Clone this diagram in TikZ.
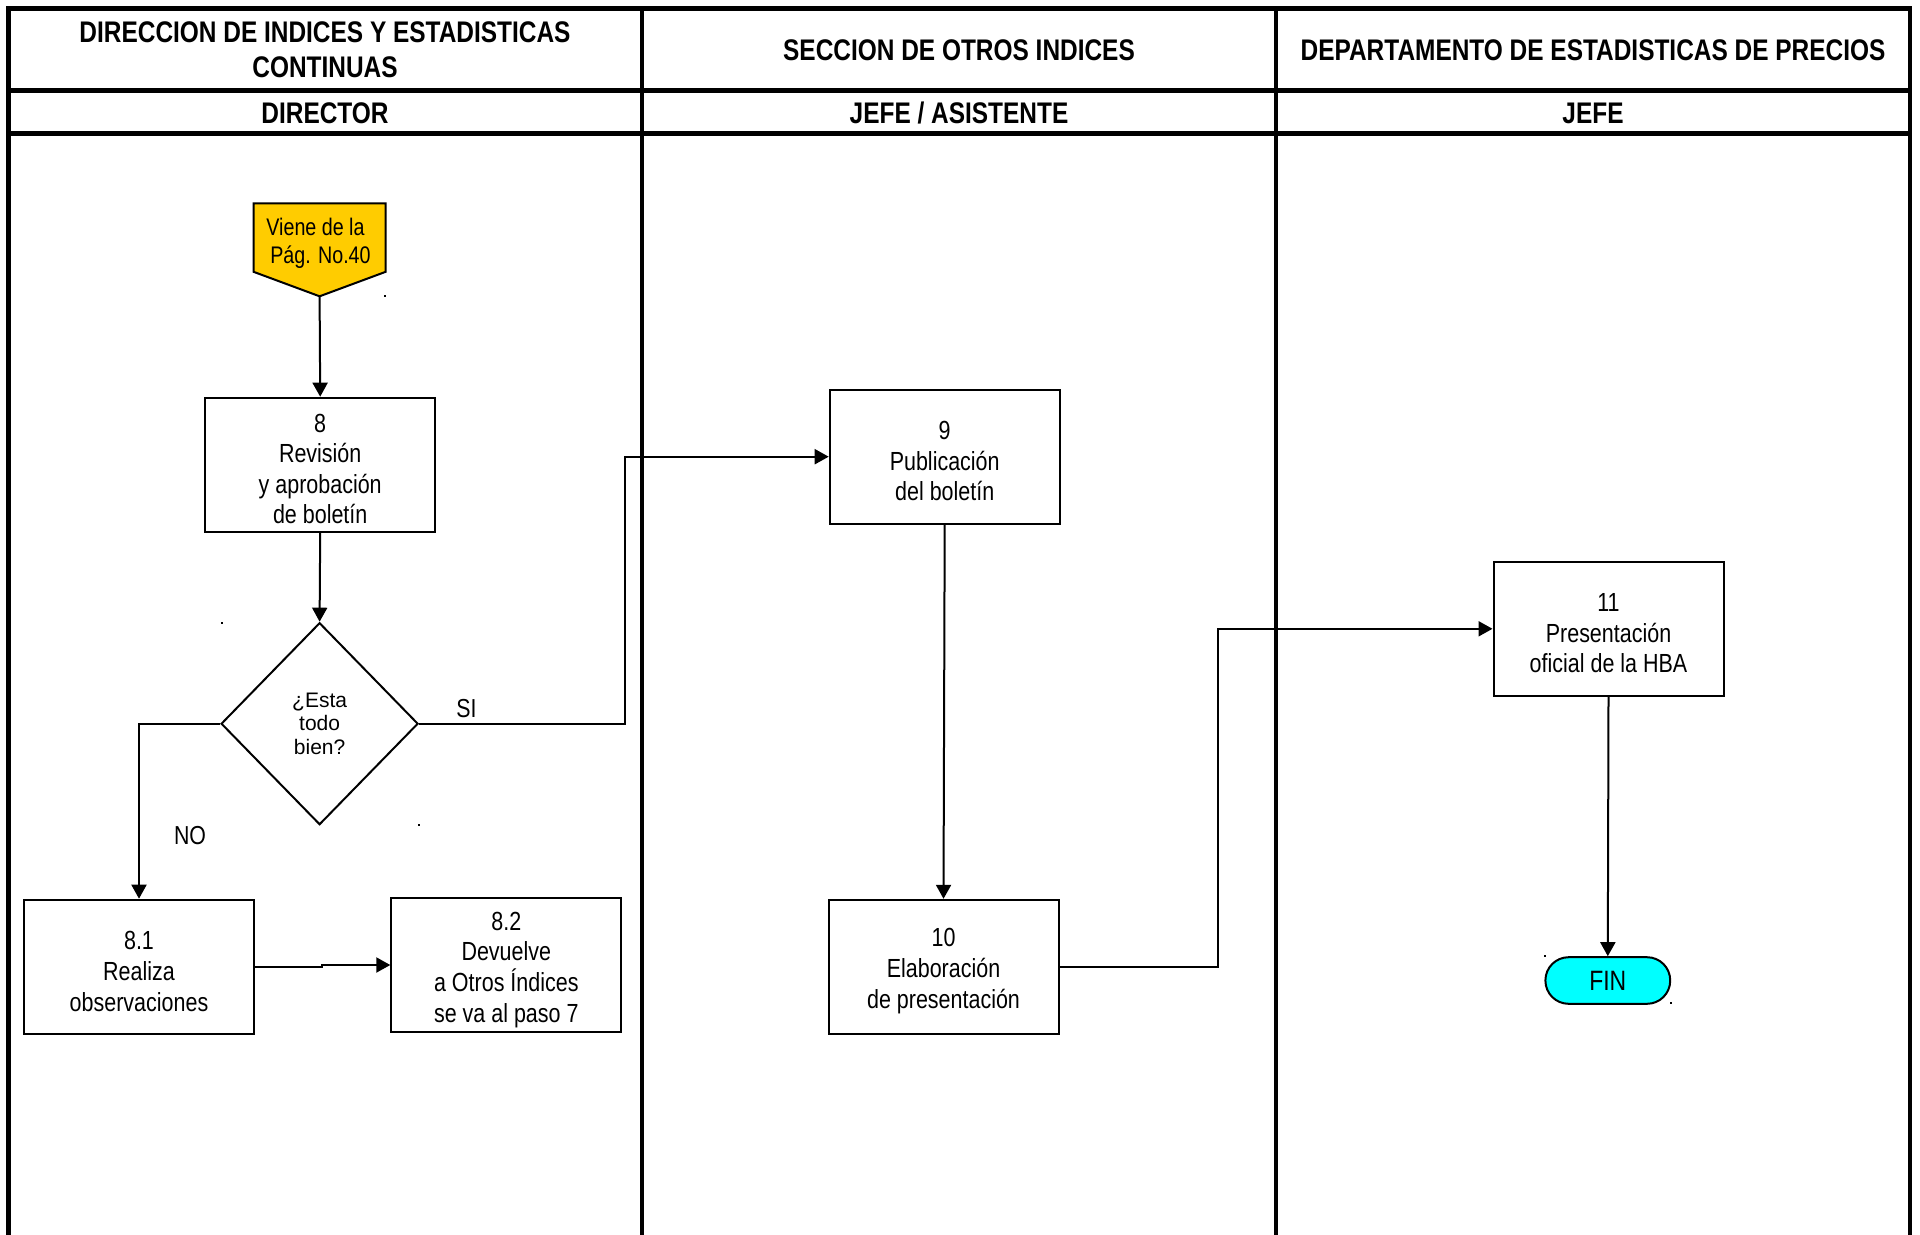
\documentclass[tikz,border=0pt]{standalone}
\usepackage{fontspec}
\setmainfont{Liberation Sans}[FakeStretch=0.82]
\newfontfamily\widefont{Liberation Sans}
\usetikzlibrary{shapes.geometric,arrows.meta,calc}
\definecolor{gold}{RGB}{255,204,0}
\definecolor{finc}{RGB}{0,255,255}
\begin{document}
\begin{tikzpicture}[x=0.5pt,y=-0.5pt,
  frame/.style={line width=2.2pt},
  hdr/.style={font=\fontsize{14.9}{17.3}\selectfont\bfseries, align=center, inner sep=0},
  stepbox/.style={draw, line width=1pt, minimum width=115pt, minimum height=67pt, inner sep=0},
  steptext/.style={align=center, inner sep=0, font=\fontsize{13.1}{15.3}\selectfont},
  conn/.style={line width=1pt, -{Triangle[width=7.5pt,length=7pt]}},
  lbl/.style={font=\fontsize{13}{15}\selectfont, inner sep=0}]
\useasboundingbox (0,0) rectangle (1920,1235);
% frame
\draw[frame] (8.6,1236) -- (8.6,8.6) -- (1910,8.6) -- (1910,1236);
\draw[frame] (8.6,90.6) -- (1910,90.6);
\draw[frame] (8.6,133.5) -- (1910,133.5);
\draw[frame] (642,8.6) -- (642,1236);
\draw[frame] (1276,8.6) -- (1276,1236);
% headers
\node[hdr] (h1) at (325,50) {DIRECCION DE INDICES Y ESTADISTICAS\\CONTINUAS};
\node[hdr] (h2) at (959,50) {SECCION DE OTROS INDICES};
\node[hdr] (h3) at (1593,50) {DEPARTAMENTO DE ESTADISTICAS DE PRECIOS};
\node[hdr] (r1) at (325,113.5) {DIRECTOR};
\node[hdr] (r2) at (959,113.5) {JEFE / ASISTENTE};
\node[hdr] (r3) at (1593,113.5) {JEFE};
% off-page connector
\draw[line width=1pt, fill=gold] (253.5,203.3) -- (385.7,203.3) -- (385.7,271.8) -- (319.6,296.3) -- (253.5,271.8) -- cycle;
\node[align=center, inner sep=0, font=\fontsize{12}{14.2}\selectfont] (viene) at (315.5,243.5) {Viene de la\\ \hspace*{5pt}Pág. No.40};
\coordinate (vtip) at (319.6,296.3);
% process boxes
\node[stepbox] (n8) at (320.2,464.7) {};
\node[stepbox] (n81) at (139,966.7) {};
\node[stepbox] (n82) at (506.3,965) {};
\node[stepbox] (n9) at (944.7,456.7) {};
\node[stepbox] (n10) at (943.5,966.8) {};
\node[stepbox] (n11) at (1608.5,628.8) {};
\node[steptext] (t8) at ($(n8)+(0,4.3)$) {8\\Revisión\\y aprobación\\de boletín};
\node[steptext] (t81) at ($(n81)+(0,4.8)$) {8.1\\Realiza\\observaciones};
\node[steptext] (t82) at ($(n82)+(0,4.8)$) {8.2\\Devuelve\\a Otros Índices\\se va al paso 7};
\node[steptext] (t9) at ($(n9)+(0,4.3)$) {9\\Publicación\\del boletín};
\node[steptext] (t10) at ($(n10)+(0,4.3)$) {10\\Elaboración\\de presentación};
\node[steptext] (t11) at ($(n11)+(0,4.6)$) {11\\Presentación\\oficial de la HBA};
% decision and end
\node[draw, line width=1pt, diamond, minimum width=98.5pt, minimum height=101pt, inner sep=0, align=center, font=\widefont\fontsize{10.5}{11.8}\selectfont] (d) at (319.6,723.7) {¿Esta\\todo\\bien?};
\node[draw, line width=1pt, fill=finc, rounded corners=11.6pt, minimum width=62.4pt, minimum height=23.3pt, inner sep=0, font=\fontsize{14}{16}\selectfont] (fin) at (1607.8,980.5) {FIN};
% labels
\node[lbl] (si) at (466.5,709) {SI};
\node[lbl] (no) at (190,836) {NO};
% connectors
\draw[conn] (vtip) -- (n8.north);
\draw[conn] (n8.south) -- (d.north);
\draw[conn] (d.east) -- (624.5,723.7) |- (n9.west);
\draw[conn] (d.west) -| (n81.north);
\coordinate (jog) at (322,966.7);
\draw[conn] (n81.east) -- (jog) |- (n82.west);
\draw[conn] (n9.south) -- (n10.north);
\draw[conn] (n10.east) -- (1218.4,966.8) |- (n11.west);
\draw[conn] (n11.south) -- (fin.north);
% small marks
\fill (384,295) rectangle (386,297);
\fill (221,622) rectangle (223,624);
\fill (418,824) rectangle (420,826);
\fill (1544,955) rectangle (1546,957);
\fill (1670,1002) rectangle (1672,1004);
\end{tikzpicture}
\end{document}
